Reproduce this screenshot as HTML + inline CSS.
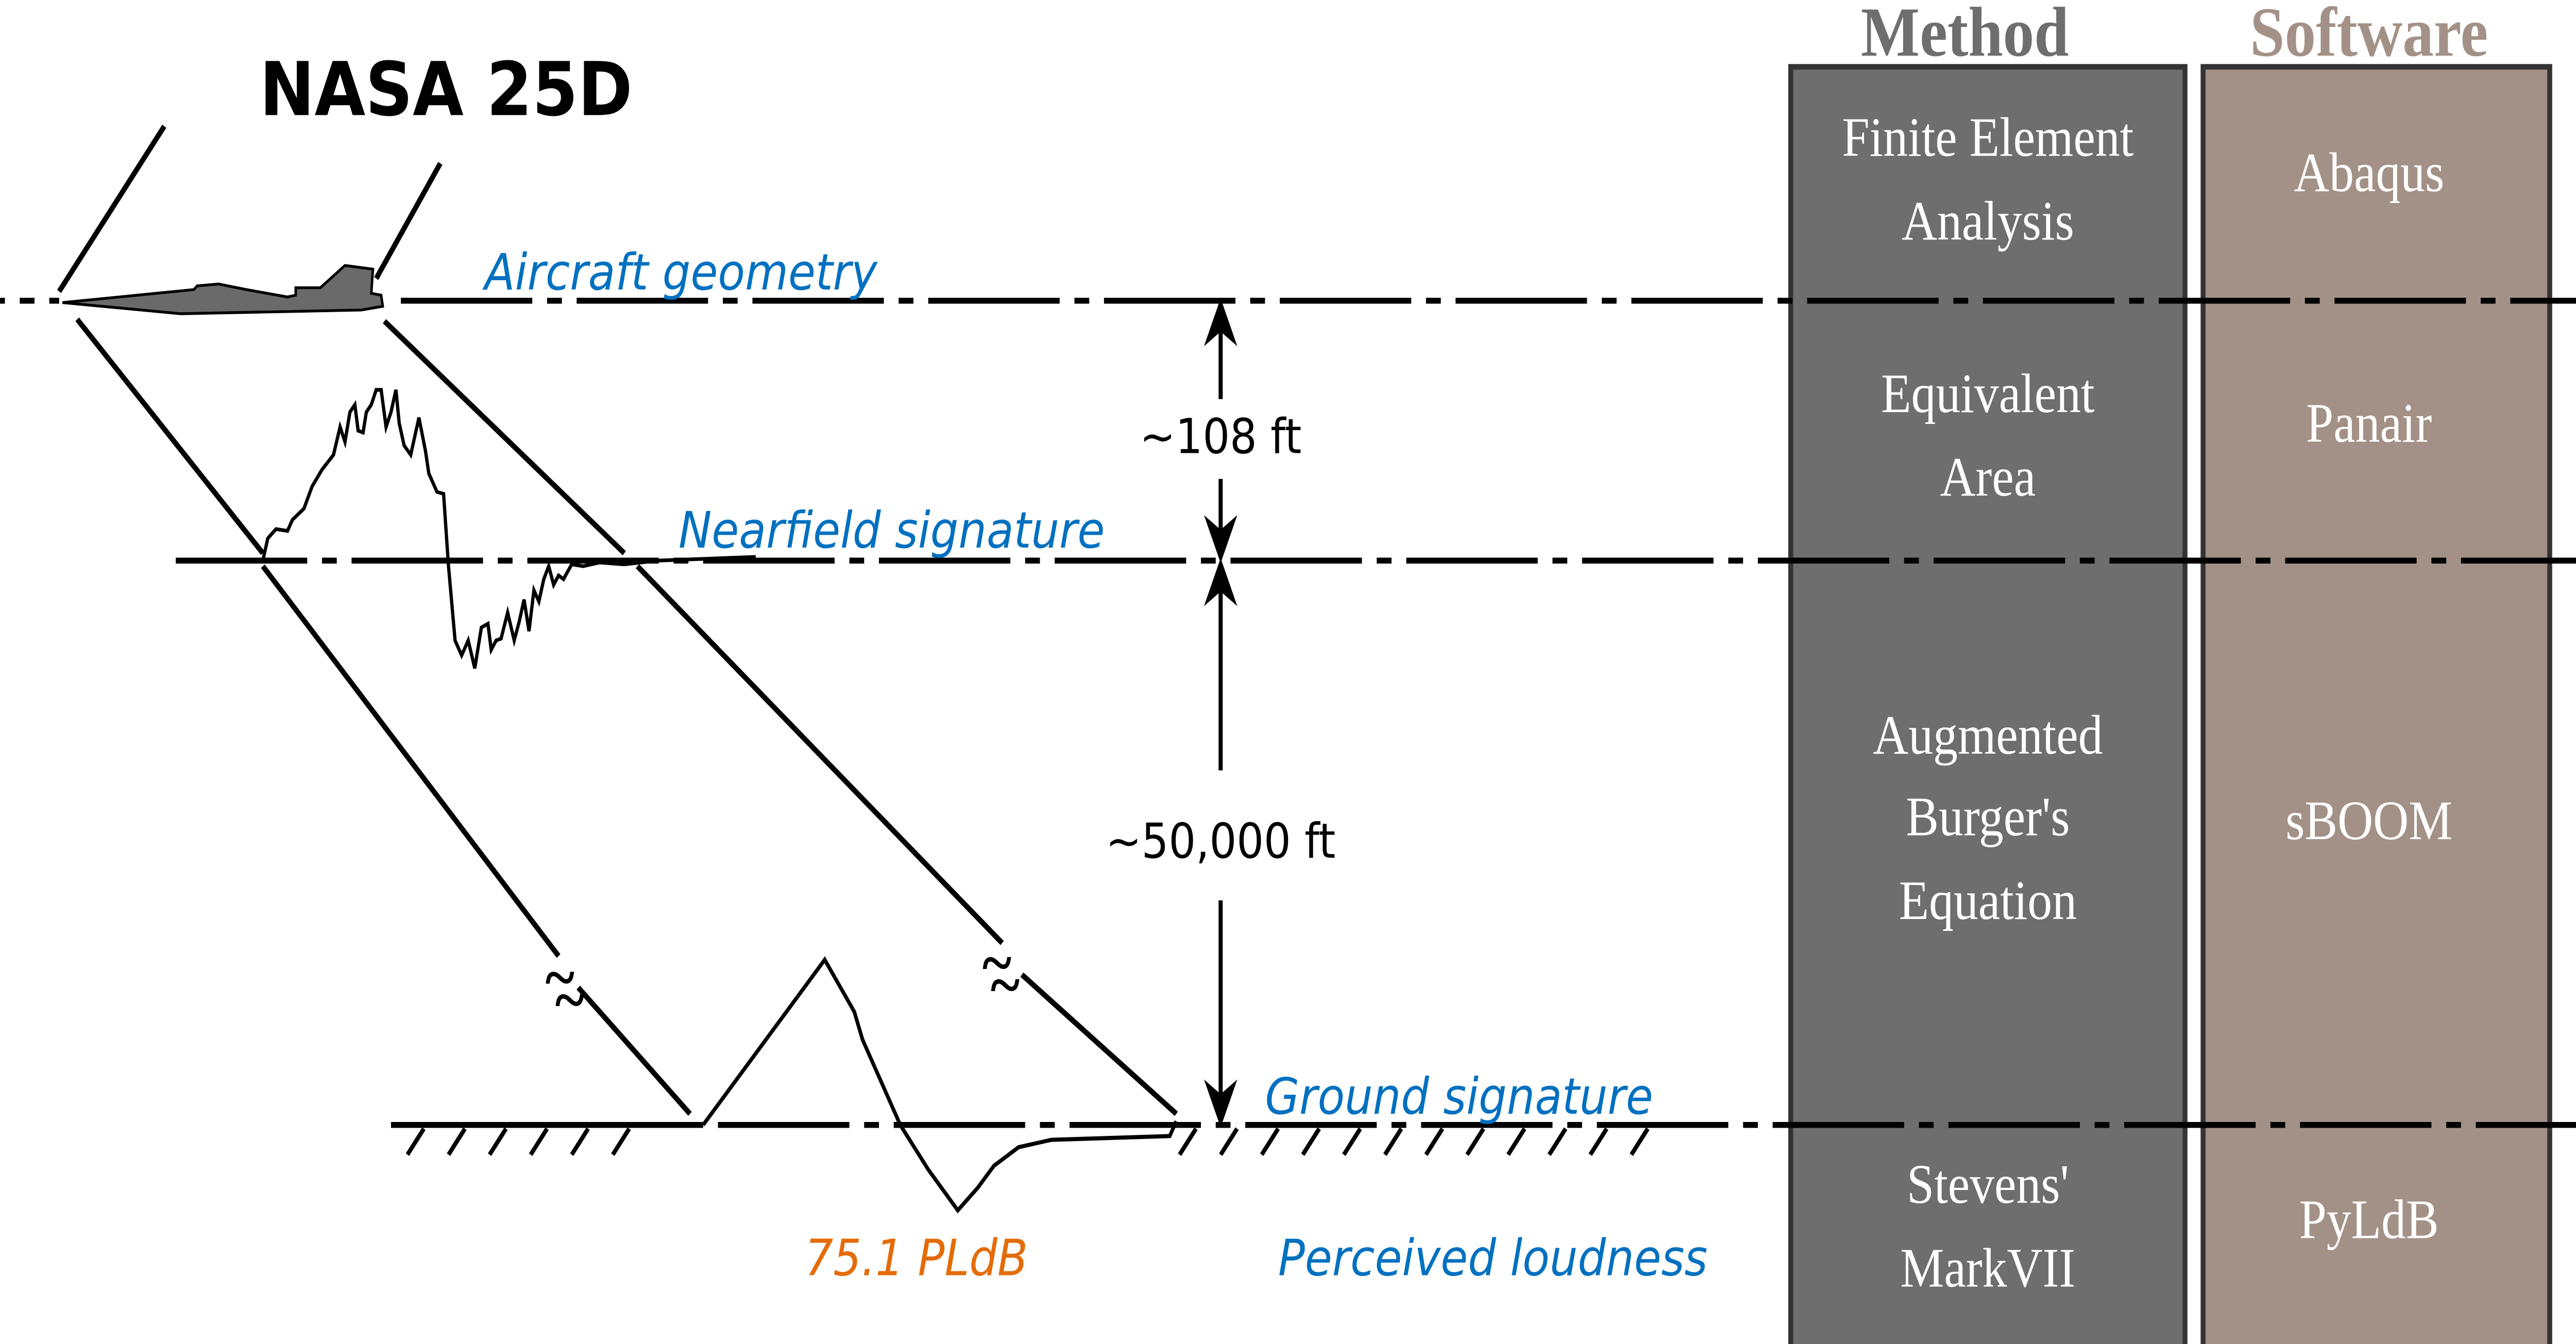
<!DOCTYPE html>
<html><head><meta charset="utf-8"><style>html,body{margin:0;padding:0;background:#fff;overflow:hidden;width:100%;height:100%}svg{display:block;position:fixed;left:0;top:0;width:100vw;height:100vh}</style></head>
<body>
<svg viewBox="0 0 1568 724" preserveAspectRatio="none" xmlns="http://www.w3.org/2000/svg">
<rect width="1568" height="724" fill="#fff"/>
<g>
<rect x="1090" y="36" width="240" height="690" fill="#6e6e6e" stroke="#333" stroke-width="3"/>
<rect x="1341" y="36" width="211" height="690" fill="#a39187" stroke="#333" stroke-width="3"/>
</g>
<g stroke="#000" stroke-width="3.2" stroke-dasharray="80,9,9,9" fill="none">
<line x1="0" y1="162" x2="1568" y2="162" stroke-dashoffset="-30"/>
<line x1="107" y1="302" x2="1568" y2="302"/>
<line x1="238" y1="606" x2="1568" y2="606" stroke-dasharray="190,9,80,9,9,9,80,9,9,9,80,9,9,9,80,9,9,9,80,9,9,9,80,9,9,9,80,9,9,9,80,9,9,9,80,9,9,9,80,9,9,9,80,9,9,9,80,9,9,9"/>
</g>
<rect x="36" y="150" width="200" height="24" fill="#fff"/>
<path d="M38,163 L118,156 L120,154 L133,153 L150,156 L175,160 L180,159 L180,155 L195,155 L210,143 L227,145 L226,158 L232,159 L233,165 L220,167 L110,169 Z" fill="#6a6a6a" stroke="#000" stroke-width="1.5"/>
<g stroke="#000" stroke-width="3" fill="none">
<line x1="36" y1="157" x2="100" y2="68"/>
<line x1="229" y1="150" x2="268" y2="88"/>
<line x1="47" y1="172" x2="160" y2="298"/>
<line x1="160" y1="305" x2="340" y2="515"/>
<line x1="352" y1="532" x2="420" y2="600"/>
<line x1="234" y1="173" x2="380" y2="298"/>
<line x1="388" y1="305" x2="610" y2="508"/>
<line x1="622" y1="525" x2="716" y2="600"/>
</g>
<g font-family="Liberation Serif, serif" font-size="34" font-weight="bold" fill="#000">
<text x="332" y="538">~</text><text x="338" y="550">~</text>
<text x="598" y="530">~</text><text x="603" y="542">~</text>
</g>
<path d="M160,302 L163,290 L168,285 L175,286 L178,280 L185,274 L190,262 L196,253 L203,245 L207,230 L210,238 L213,222 L216,218 L218,232 L221,233 L223,222 L226,218 L229,210 L232,210 L235,230 L238,222 L241,210 L243,228 L246,240 L250,245 L255,225 L259,243 L261,255 L266,265 L270,266 L273,305 L277,345 L281,353 L285,345 L289,360 L293,338 L297,336 L299,350 L302,345 L305,344 L309,330 L313,345 L316,335 L319,323 L322,340 L325,318 L328,324 L331,312 L334,305 L337,315 L340,310 L343,312 L348,304 L355,305 L365,303 L380,304 L400,302 L430,301 L460,300" fill="none" stroke="#000" stroke-width="2"/>
<path d="M428,606 L502,517 L520,545 L525,560 L540,590 L548,606 L565,630 L583,652 L595,640 L605,628 L620,618 L640,614 L712,612 L716,604" fill="none" stroke="#000" stroke-width="2.2"/>
<g stroke="#000" stroke-width="2.5">
<line x1="258" y1="608" x2="248" y2="622"/><line x1="283" y1="608" x2="273" y2="622"/><line x1="308" y1="608" x2="298" y2="622"/><line x1="333" y1="608" x2="323" y2="622"/><line x1="358" y1="608" x2="348" y2="622"/><line x1="383" y1="608" x2="373" y2="622"/>
<line x1="728" y1="608" x2="718" y2="622"/><line x1="753" y1="608" x2="743" y2="622"/><line x1="778" y1="608" x2="768" y2="622"/><line x1="803" y1="608" x2="793" y2="622"/><line x1="828" y1="608" x2="818" y2="622"/><line x1="853" y1="608" x2="843" y2="622"/><line x1="878" y1="608" x2="868" y2="622"/><line x1="903" y1="608" x2="893" y2="622"/><line x1="928" y1="608" x2="918" y2="622"/><line x1="953" y1="608" x2="943" y2="622"/><line x1="978" y1="608" x2="968" y2="622"/><line x1="1003" y1="608" x2="993" y2="622"/>
</g>
<g stroke="#000" stroke-width="2.5" fill="#000">
<line x1="743" y1="170" x2="743" y2="215"/><line x1="743" y1="258" x2="743" y2="295"/>
<line x1="743" y1="310" x2="743" y2="415"/><line x1="743" y1="485" x2="743" y2="598"/>
<path d="M743,162 L734,185 L743,178 L752,185 Z" stroke-width="1"/>
<path d="M743,302 L734,279 L743,286 L752,279 Z" stroke-width="1"/>
<path d="M743,302 L734,325 L743,318 L752,325 Z" stroke-width="1"/>
<path d="M743,606 L734,583 L743,590 L752,583 Z" stroke-width="1"/>
</g>
<g font-family="DejaVu Sans, Liberation Sans, sans-serif" font-size="26" fill="#000" text-anchor="middle">
<text x="743" y="244">~108 ft</text>
<text x="743" y="462">~50,000 ft</text>
</g>
<text x="158" y="62" font-family="DejaVu Sans, Liberation Sans, sans-serif" font-weight="bold" font-size="40" fill="#000">NASA 25D</text>
<g font-family="DejaVu Sans, Liberation Sans, sans-serif" font-style="italic" font-size="27" fill="#0070c0">
<text x="295" y="156">Aircraft geometry</text>
<text x="413" y="295">Nearfield signature</text>
<text x="770" y="600">Ground signature</text>
<text x="778" y="687">Perceived loudness</text>
<text x="490" y="687" fill="#e36c09">75.1 PLdB</text>
</g>
<g font-family="Liberation Serif, serif" font-weight="bold" font-size="38" text-anchor="middle">
<text x="1196" y="30" fill="#6e6e6e">Method</text>
<text x="1442" y="30" fill="#a39187">Software</text>
</g>
<g font-family="Liberation Serif, serif" font-size="30" fill="#fff" text-anchor="middle">
<text x="1210" y="84">Finite Element</text>
<text x="1210" y="129">Analysis</text>
<text x="1210" y="222">Equivalent</text>
<text x="1210" y="267">Area</text>
<text x="1210" y="406">Augmented</text>
<text x="1210" y="450">Burger's</text>
<text x="1210" y="495">Equation</text>
<text x="1210" y="648">Stevens'</text>
<text x="1210" y="693">MarkVII</text>
<text x="1442" y="103">Abaqus</text>
<text x="1442" y="238">Panair</text>
<text x="1442" y="452">sBOOM</text>
<text x="1442" y="667">PyLdB</text>
</g>
</svg>
</body></html>
